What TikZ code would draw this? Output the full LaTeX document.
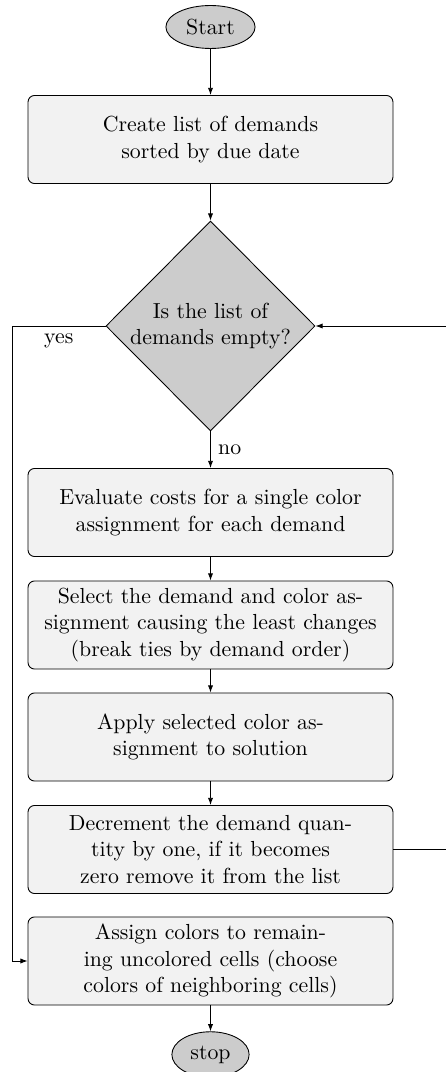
\documentclass[tikz,border=0pt]{standalone}
\usetikzlibrary{shapes.geometric,arrows.meta}
\begin{document}
\begin{tikzpicture}[x=0.4587pt,y=-0.4587pt,
  every node/.style={font=\normalsize},
  stepbox/.style={rectangle, draw, fill=gray!10, rounded corners=3pt,
    minimum width=167.4pt, minimum height=40.4pt, text width=158pt, align=center},
  terminal/.style={ellipse, draw, fill=gray!40},
  decision/.style={diamond, draw, fill=gray!40, aspect=1, inner sep=0pt,
    minimum width=95.9pt, minimum height=96.3pt, align=center},
  arr/.style={-{Latex[length=3.3pt,width=2.4pt]}, line width=0.4pt}
]
\useasboundingbox (0,0) rectangle (446,1072);

\node[terminal] (start) at (210.5,27) {Start};
\node[stepbox] (create) at (210.5,139.5) {Create list of demands\\sorted by due date};
\node[decision] (empty) at (210.5,326) {Is the list of\\demands empty?};
\node[stepbox] (eval) at (210.5,512.5) {Evaluate costs for a single color\\assignment for each demand};
\node[stepbox] (select) at (210.5,625) {Select the demand and color as-\\signment causing the least changes\\(break ties by demand order)};
\node[stepbox] (apply) at (210.5,737) {Apply selected color as-\\signment to solution};
\node[stepbox] (decr) at (210.5,849.5) {Decrement the demand quan-\\tity by one, if it becomes\\zero remove it from the list};
\node[stepbox] (assign) at (210.5,961) {Assign colors to remain-\\ing uncolored cells (choose\\colors of neighboring cells)};
\node[terminal] (stop) at (210.5,1054.5) {stop};

% bends of the two loop connectors
\coordinate (lx) at (12,600);
\coordinate (rx) at (452,600);

\draw[arr] (start) -- (create);
\draw[arr] (create) -- (empty);
\draw[arr] (empty) -- node[right] {no} (eval);
\draw[arr] (eval) -- (select);
\draw[arr] (select) -- (apply);
\draw[arr] (apply) -- (decr);
\draw[arr] (assign) -- (stop);
\draw[arr] (empty.west) -- node[below] {yes} (lx |- empty.west) |- (assign.west);
\draw[arr] (decr.east) -| (rx) |- (empty.east);
\end{tikzpicture}
\end{document}
